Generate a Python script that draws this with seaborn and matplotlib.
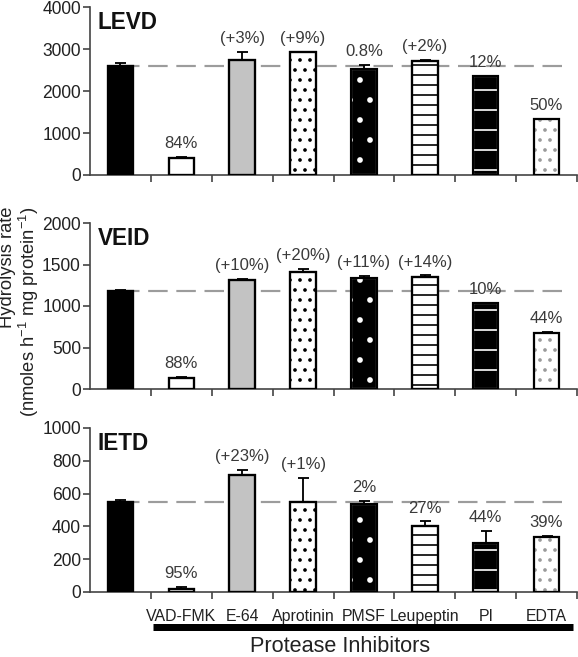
import numpy as np
import pandas as pd
import matplotlib
matplotlib.use("Agg")
import matplotlib.pyplot as plt
import seaborn as sns
from matplotlib.transforms import blended_transform_factory
from matplotlib.ticker import FixedLocator

# ---------------- data ----------------
categories = ["Control", "VAD-FMK", "E-64", "Aprotinin", "PMSF", "Leupeptin", "PI", "EDTA"]
tick_labels = ["", "VAD-FMK", "E-64", "Aprotinin", "PMSF", "Leupeptin", "PI", "EDTA"]

levd_values = [2600, 413, 2730, 2920, 2530, 2720, 2360, 1335]
levd_errors = [60, 20, 200, 10, 100, 15, 5, 10]
levd_labels = ["", "84%", "(+3%)", "(+9%)", "0.8%", "(+2%)", "12%", "50%"]

veid_values = [1183, 133, 1315, 1415, 1332, 1353, 1037, 672]
veid_errors = [5, 12, 10, 30, 30, 15, 5, 15]
veid_labels = ["", "88%", "(+10%)", "(+20%)", "(+11%)", "(+14%)", "10%", "44%"]

ietd_values = [550, 20, 713, 549, 535, 402, 299, 338]
ietd_errors = [8, 12, 30, 148, 18, 28, 76, 5]
ietd_labels = ["", "95%", "(+23%)", "(+1%)", "2%", "27%", "44%", "39%"]

panel_titles = ["LEVD", "VEID", "IETD"]
levd_ticks = [0, 1000, 2000, 3000, 4000]
veid_ticks = [0, 500, 1000, 1500, 2000]
ietd_ticks = [0, 200, 400, 600, 800, 1000]

# ---------------- styles ----------------
bar_faces = ["black", "white", "#c3c3c3", "white", "black", "white", "black", "white"]
bar_hatches = [None, None, None, "..", ".", "--", "-", ".."]
hatch_colors = ["black", "black", "black", "black", "white", "black", "white", "#9a9a9a"]

DPI = 120
sns.set_theme(style="white")
plt.rcParams["font.family"] = ["Liberation Sans", "DejaVu Sans"]
plt.rcParams["mathtext.fontset"] = "custom"
plt.rcParams["mathtext.rm"] = "Liberation Sans"
plt.rcParams["mathtext.it"] = "Liberation Sans:italic"
plt.rcParams["mathtext.bf"] = "Liberation Sans:bold"
plt.rcParams["hatch.linewidth"] = 1.0

fig = plt.figure(figsize=(578 / DPI, 657 / DPI), dpi=DPI)
W, H = 578, 657
left, right = 90, 577
panels = [(7, 175), (223, 389), (428, 592)]

datasets = [
    (levd_values, levd_errors, levd_labels, levd_ticks),
    (veid_values, veid_errors, veid_labels, veid_ticks),
    (ietd_values, ietd_errors, ietd_labels, ietd_ticks),
]

bar_w = 0.42
axes = []
for p, ((top, bot), (vals, errs, labs, yt)) in enumerate(zip(panels, datasets)):
    ax = fig.add_axes([left / W, 1 - bot / H, (right - left) / W, (bot - top) / H])
    axes.append(ax)
    df = pd.DataFrame({"Inhibitor": categories, "Rate": vals})
    sns.barplot(data=df, x="Inhibitor", y="Rate", order=categories, width=bar_w,
                color="white", saturation=1, errorbar=None, ax=ax,
                edgecolor="black", linewidth=1.3, zorder=2)
    for patch, fc, hatch, hc in zip(ax.patches, bar_faces, bar_hatches, hatch_colors):
        patch.set_facecolor(fc)
        if hatch:
            patch.set_edgecolor(hc)
            patch.set_hatch(hatch)
    # outlines on top of hatched bars
    ax.bar(range(len(categories)), vals, width=bar_w, fill=False,
           edgecolor="black", linewidth=1.3, zorder=3)
    # upper error bars
    ax.errorbar(range(len(categories)), vals, yerr=[np.zeros(len(vals)), errs],
                fmt="none", ecolor="black", elinewidth=1.1, capsize=3.3,
                capthick=1.1, zorder=4)
    # control reference line
    ax.axhline(vals[0], xmin=0.5 / 8, xmax=7.8 / 8, color="#9c9c9c",
               lw=1.3, dashes=(9, 4), zorder=1)
    # percent labels
    for i, (v, e, lab) in enumerate(zip(vals, errs, labs)):
        if lab:
            ax.annotate(lab, (i, v + e), xytext=(0, 3.5), textcoords="offset points",
                        ha="center", va="bottom", fontsize=10, color="#3a3a3a")
    ax.text(0.016, 0.905, panel_titles[p], transform=ax.transAxes,
            fontsize=13.5, fontweight="bold", ha="left", va="center", color="#111111")

    ax.set_xlim(-0.5, 7.5)
    ax.set_ylim(0, yt[-1])
    ax.set_yticks(yt)
    ax.set_yticklabels([str(t) for t in yt])
    ax.set_xlabel("")
    ax.set_ylabel("")
    for s in ["top", "right"]:
        ax.spines[s].set_visible(False)
    for s in ["left", "bottom"]:
        ax.spines[s].set_color("#444444")
        ax.spines[s].set_linewidth(1.0)
    ax.xaxis.set_major_locator(FixedLocator(range(len(categories))))
    ax.xaxis.set_minor_locator(FixedLocator(np.arange(0.5, 8, 1.0)))
    ax.tick_params(axis="y", which="major", left=True, length=4, width=1,
                   color="#444444", direction="out", labelsize=10.5, pad=1.5,
                   labelcolor="#222222")
    ax.tick_params(axis="x", which="minor", bottom=True, length=4, width=1,
                   color="#444444", direction="out")
    ax.tick_params(axis="x", which="major", bottom=False, length=0)
    if p < 2:
        ax.set_xticklabels([""] * len(categories))
    else:
        ax.set_xticklabels(tick_labels)
        ax.tick_params(axis="x", which="major", labelsize=9.5, pad=10,
                       labelcolor="#222222")
        trans = blended_transform_factory(ax.transData, ax.transAxes)
        ax.plot([0.53, 7.43], [-0.213, -0.213], transform=trans, color="black",
                lw=4.2, solid_capstyle="butt", clip_on=False)

fig.text(340 / W, 1 - 647 / H, "Protease Inhibitors", ha="center", va="center",
         fontsize=13, color="#222222")
fig.text(20 / W, 1 - 207 / H,
         "Hydrolysis rate\n(nmoles h$^{-1}$ mg protein$^{-1}$)",
         rotation=90, ha="center", va="top", multialignment="right",
         fontsize=11, color="#222222", linespacing=1.0)

fig.savefig("out.png", dpi=DPI)
